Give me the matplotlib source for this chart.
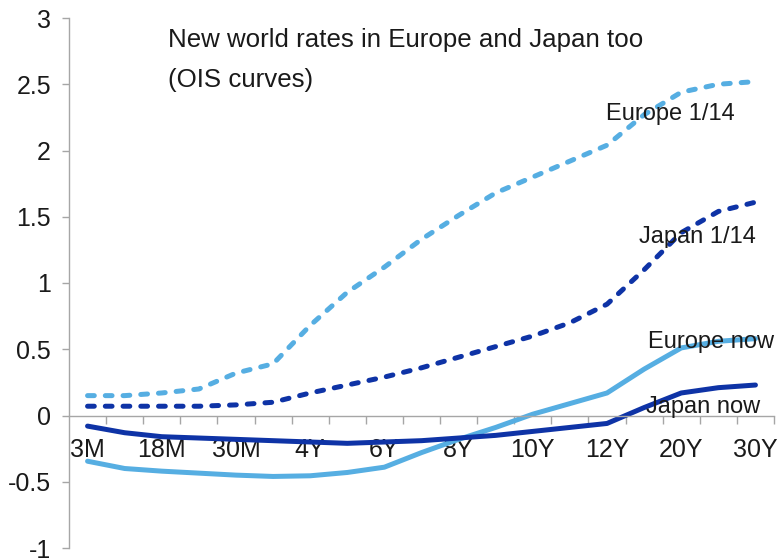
import matplotlib
matplotlib.use("Agg")
import matplotlib.pyplot as plt
from matplotlib.ticker import FixedLocator, NullFormatter

categories = ["3M", "12M", "18M", "2Y", "30M", "3Y", "4Y", "5Y", "6Y", "7Y",
              "8Y", "9Y", "10Y", "11Y", "12Y", "15Y", "20Y", "25Y", "30Y"]
shown_labels = ["3M", "18M", "30M", "4Y", "6Y", "8Y", "10Y", "12Y", "20Y", "30Y"]

europe_jan14 = [0.15, 0.15, 0.17, 0.20, 0.32, 0.39, 0.68, 0.93, 1.12, 1.33,
                1.51, 1.68, 1.80, 1.92, 2.04, 2.27, 2.44, 2.50, 2.52]
japan_jan14 = [0.07, 0.07, 0.07, 0.07, 0.08, 0.10, 0.17, 0.23, 0.29, 0.36,
               0.44, 0.52, 0.60, 0.70, 0.84, 1.10, 1.38, 1.54, 1.61]
europe_now = [-0.345, -0.40, -0.42, -0.435, -0.45, -0.46, -0.455, -0.43, -0.39, -0.28,
              -0.18, -0.09, 0.01, 0.09, 0.17, 0.35, 0.51, 0.56, 0.58]
japan_now = [-0.08, -0.13, -0.16, -0.17, -0.18, -0.19, -0.20, -0.21, -0.20, -0.19,
             -0.17, -0.15, -0.12, -0.09, -0.06, 0.06, 0.17, 0.21, 0.23]

series_labels = ["Europe 1/14", "Japan 1/14", "Europe now", "Japan now"]
title_lines = ["New world rates in Europe and Japan too", "(OIS curves)"]

LIGHT = "#56AEE2"
DARK = "#0E33A6"
TXT = "#1a1a1a"
plt.rcParams["font.family"] = ["Liberation Sans", "DejaVu Sans"]

W, H = 778, 558
fig = plt.figure(figsize=(W / 100, H / 100), dpi=100)
ax = fig.add_axes([69 / W, 1 - 548 / H, (774 - 69) / W, (548 - 18) / H])

x = list(range(len(categories)))
lw = 3.6
ax.plot(x, europe_jan14, color=LIGHT, lw=lw, dashes=(1.35, 2.2), dash_capstyle="round")
ax.plot(x, japan_jan14, color=DARK, lw=lw, dashes=(1.35, 2.2), dash_capstyle="round")
ax.plot(x, europe_now, color=LIGHT, lw=lw, solid_capstyle="round")
ax.plot(x, japan_now, color=DARK, lw=lw, solid_capstyle="round")

ax.set_xlim(-0.5, len(categories) - 0.5)
ax.set_ylim(-1, 3)
ax.set_yticks([-1, -0.5, 0, 0.5, 1, 1.5, 2, 2.5, 3])
ax.set_yticklabels(["-1", "-0.5", "0", "0.5", "1", "1.5", "2", "2.5", "3"])

for s in ["top", "right"]:
    ax.spines[s].set_visible(False)
ax.spines["bottom"].set_position(("data", 0))
for s in ["left", "bottom"]:
    ax.spines[s].set_color("#A6A6A6")
    ax.spines[s].set_linewidth(1.0)

ax.tick_params(axis="y", direction="out", length=5, width=1, color="#A6A6A6",
               labelsize=18, pad=8, labelcolor=TXT)

label_pos = [categories.index(c) for c in shown_labels]
ax.xaxis.set_major_locator(FixedLocator(label_pos))
ax.set_xticklabels(shown_labels)
ax.xaxis.set_minor_locator(FixedLocator([i + 0.5 for i in range(len(categories))]))
ax.xaxis.set_minor_formatter(NullFormatter())
ax.tick_params(axis="x", which="major", length=0, labelsize=18, pad=16, labelcolor=TXT)
ax.tick_params(axis="x", which="minor", direction="out", length=6, width=1, color="#A6A6A6")

fig.text(168 / W, 1 - 47 / H, title_lines[0], ha="left", va="baseline",
         fontsize=18.6, color=TXT)
fig.text(168 / W, 1 - 87 / H, title_lines[1], ha="left", va="baseline",
         fontsize=18.6, color=TXT)

ann = [(15.7, 2.23, series_labels[0]), (16.45, 1.30, series_labels[1]),
       (16.8, 0.51, series_labels[2]), (16.6, 0.02, series_labels[3])]
for xx, yy, t in ann:
    ax.text(xx, yy, t, ha="center", va="baseline", fontsize=17, color=TXT)

fig.savefig("out.png", dpi=100)
